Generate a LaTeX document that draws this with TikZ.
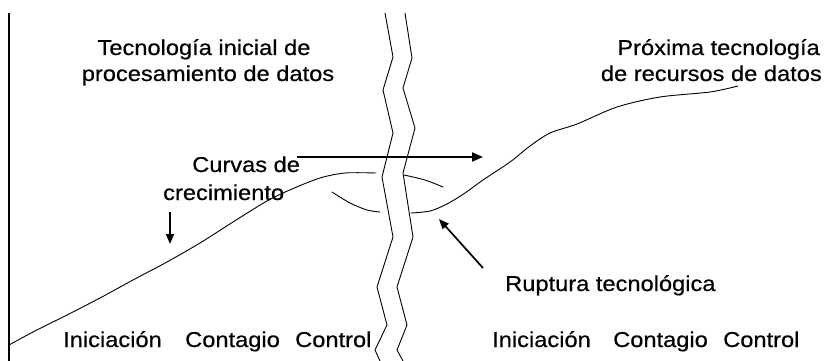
\documentclass[tikz,border=0pt]{standalone}
\usepackage{fontspec}
\setmainfont{Liberation Sans}
\newfontfamily\lblfont[FakeBold=0.45]{Liberation Sans}
\usetikzlibrary{arrows.meta}
\newcommand\sxt[1]{\scalebox{1.1}[1]{#1}}
\begin{document}
\begin{tikzpicture}[x=1pt,y=-1pt,
  lbl/.style={font=\lblfont\fontsize{21.5}{26}\selectfont, inner sep=0pt, anchor=base west},
  curve/.style={line width=0.9pt, line join=round, line cap=round},
  brk/.style={line width=0.9pt, line join=miter},
  axisline/.style={line width=1.3pt},
  bigarrow/.style={line width=2pt, -{Triangle[length=11pt,width=9pt]}},
  smallarrow/.style={line width=1.7pt, -{Triangle[length=10pt,width=8pt]}}]
\fill[white] (0,0) rectangle (830,361);
\useasboundingbox (0,0) rectangle (830,361);

% left axis
\coordinate (ax1) at (9,13);
\coordinate (ax2) at (9,361);
\draw[axisline] (ax1) -- (ax2);

% texts
\node[lbl, anchor=base] (tl1) at (204,55) {\sxt{Tecnología inicial de}};
\node[lbl, anchor=base] (tl2) at (208,81) {\sxt{procesamiento de datos}};
\node[lbl, anchor=base east] (tr1) at (820,55) {\sxt{Próxima tecnología}};
\node[lbl, anchor=base east] (tr2) at (822,81) {\sxt{de recursos de datos}};
\node[lbl] (cv1) at (192,172) {\sxt{Curvas de}};
\node[lbl] (cv2) at (163,200) {\sxt{crecimiento}};
\node[lbl] (rup) at (505,291) {\sxt{Ruptura tecnológica}};
\node[lbl] (i1) at (63,347) {\sxt{Iniciación}};
\node[lbl] (c1) at (185,347) {\sxt{Contagio}};
\node[lbl] (k1) at (295,347) {\sxt{Control}};
\node[lbl] (i2) at (492,347) {\sxt{Iniciación}};
\node[lbl] (c2) at (613,347) {\sxt{Contagio}};
\node[lbl] (k2) at (723,347) {\sxt{Control}};

% first growth curve
\draw[curve] plot[smooth, tension=0.5] coordinates {(9,345) (33,332) (67,315) (100,298) (133,280) (167,262) (200,243) (233,222) (267,201) (292,189) (320,178) (345,173) (376,173)};
\draw[curve] plot[smooth, tension=0.5] coordinates {(404,175) (425,180) (443,187)};

% second growth curve
\draw[curve] plot[smooth, tension=0.5] coordinates {(332,192) (350,203) (367,210) (380,212)};
\draw[curve] plot[smooth, tension=0.5] coordinates {(411,213) (430,211) (447,204) (465,193) (483,180) (510,162) (530,146) (550,133) (577,124) (617,107) (660,97) (710,92) (738,86)};

% break lines
\draw[brk] (385,13) -- (393,57) -- (383,90) -- (393,133) -- (382,177) -- (393,237) -- (377,287) -- (387,325) -- (375,350) -- (380,361);
\draw[brk] (405,13) -- (412,58) -- (403,88) -- (415,128) -- (403,173) -- (413,237) -- (397,287) -- (407,325) -- (397,350) -- (403,361);

% arrows
\coordinate (h1) at (297,157);
\coordinate (h2) at (483,157);
\draw[bigarrow] (h1) -- (h2);
\coordinate (d1) at (170,212);
\coordinate (d2) at (170,244);
\draw[smallarrow] (d1) -- (d2);
\coordinate (r1) at (483,268);
\coordinate (r2) at (439,219);
\draw[smallarrow] (r1) -- (r2);
\end{tikzpicture}
\end{document}
